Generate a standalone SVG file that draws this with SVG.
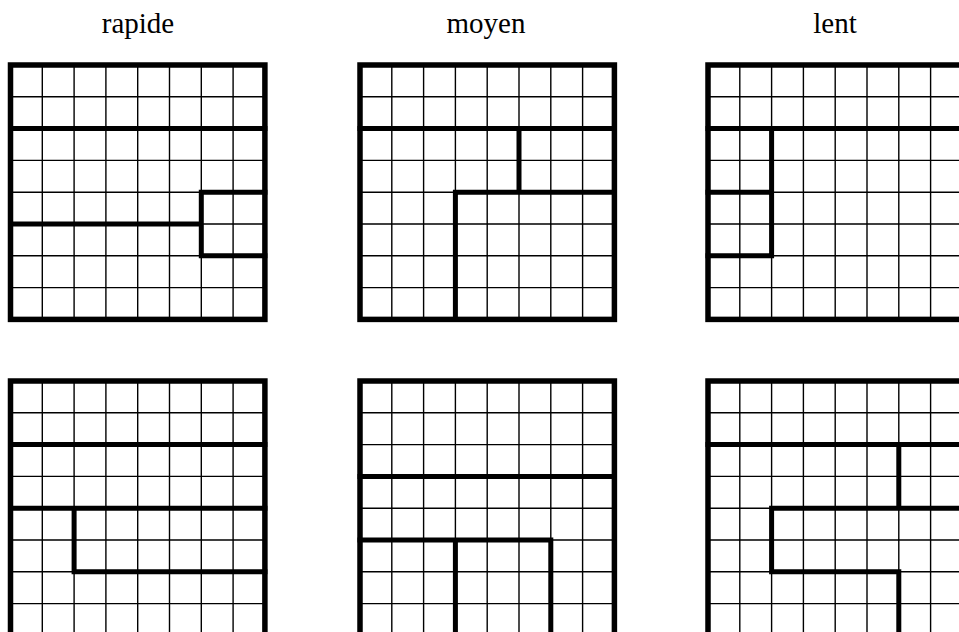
<svg xmlns="http://www.w3.org/2000/svg" xmlns:xlink="http://www.w3.org/1999/xlink" width="959" height="632" viewBox="0 0 959 632">
<style>
.thin{stroke:#000;stroke-width:1.4;fill:none}
.frame{stroke:#000;stroke-width:5.5;fill:none}
.thick{stroke:#000;stroke-width:5;fill:none;stroke-linecap:square;stroke-linejoin:miter}
.title{font-family:"Liberation Serif","Times New Roman",serif;font-size:29px;fill:#000;text-anchor:middle}
</style>
<defs>
<g id="grid">
<path class="thin" d="M31.8,0V254.4M63.6,0V254.4M95.4,0V254.4M127.2,0V254.4M159,0V254.4M190.8,0V254.4M222.6,0V254.4M0,31.8H254.4M0,63.6H254.4M0,95.4H254.4M0,127.2H254.4M0,159H254.4M0,190.8H254.4M0,222.6H254.4"/>
<rect class="frame" x="0" y="0" width="254.4" height="254.4"/>
</g>
</defs>
<rect width="959" height="632" fill="#fff"/>
<g id="titles">
<text class="title" x="138" y="33">rapide</text>
<text class="title" x="486" y="33">moyen</text>
<text class="title" x="835" y="33">lent</text>
</g>
<g id="grid-rapide-1" transform="translate(10.5,65)">
<use xlink:href="#grid"/>
<path class="thick" d="M0,63.6H254.4M0,159H190.8M254.4,127.2H190.8V190.8H254.4"/>
</g>
<g id="grid-moyen-1" transform="translate(360,65)">
<use xlink:href="#grid"/>
<path class="thick" d="M0,63.6H254.4M159,63.6V127.2M254.4,127.2H95.4V254.4"/>
</g>
<g id="grid-lent-1" transform="translate(708,65)">
<use xlink:href="#grid"/>
<path class="thick" d="M0,63.6H254.4M63.6,63.6V190.8M0,127.2H63.6M0,190.8H63.6"/>
</g>
<g id="grid-rapide-2" transform="translate(10.5,381)">
<use xlink:href="#grid"/>
<path class="thick" d="M0,63.6H254.4M0,127.2H254.4M63.6,127.2V190.8H254.4"/>
</g>
<g id="grid-moyen-2" transform="translate(360,381)">
<use xlink:href="#grid"/>
<path class="thick" d="M0,95.4H254.4M0,159H190.8V254.4M95.4,159V254.4"/>
</g>
<g id="grid-lent-2" transform="translate(708,381)">
<use xlink:href="#grid"/>
<path class="thick" d="M0,63.6H254.4M190.8,63.6V127.2M254.4,127.2H63.6V190.8H190.8V254.4"/>
</g>
</svg>
